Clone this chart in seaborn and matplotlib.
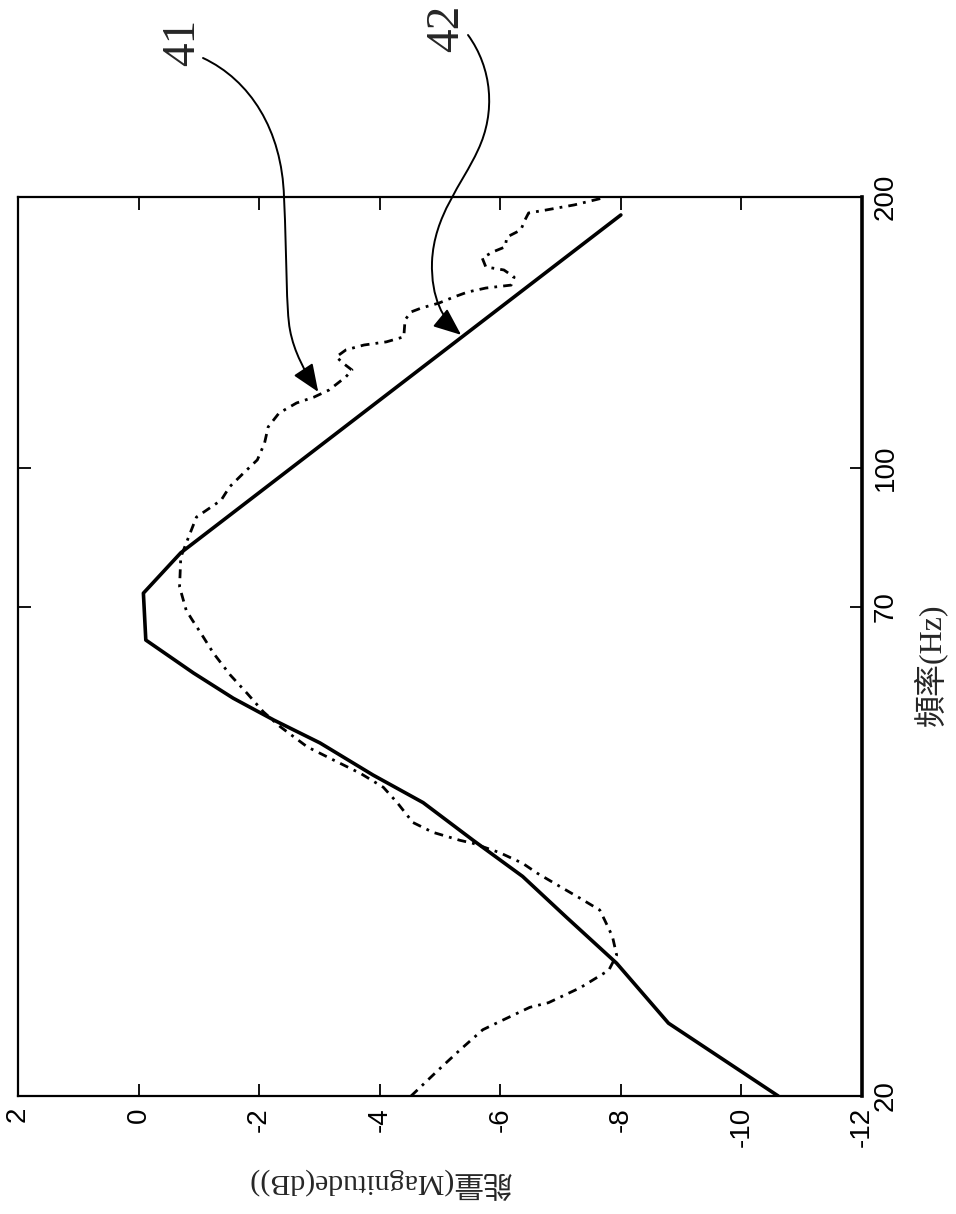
import matplotlib
matplotlib.use('Agg')
from matplotlib import pyplot as plt
from matplotlib.path import Path
from matplotlib.patches import FancyArrowPatch, ArrowStyle
from matplotlib.transforms import IdentityTransform
import seaborn as sns

# curve 42 (solid): frequency (Hz) and magnitude (dB)
freq_42 = [20, 24.1, 28.1, 31.6, 35.1, 38.5, 42.4, 45.5, 49.4, 52.4, 55.4, 59.1,
           64.3, 72.5, 80.4, 191]
mag_42 = [-10.61, -8.79, -7.93, -7.10, -6.37, -5.55, -4.72, -3.89, -3.01, -2.24,
          -1.57, -0.91, -0.12, -0.08, -0.70, -8.0]

# curve 41 (dash-dot, measured)
freq_41 = [20, 21.4, 22.5, 23.7, 24.2, 25.1, 25.4, 26.4, 27.6, 28.7, 30.1, 31.4,
           32.2, 33.2, 34.2, 35.4, 36.3, 37.3, 38.2, 38.5, 39.3, 40.3, 42.4, 44.1,
           45.7, 47.3, 48.9, 51.5, 53.5, 56.1, 58.8, 62.2, 65.5, 67.7, 69.4, 73.7,
           79.5, 82.4, 88.1, 92.0, 95.2, 98.6, 102.0, 106.5, 111.0, 115.0, 118.0,
           119.8, 122.0, 126.2, 128.4, 130.7, 132.8, 135.2, 136.9, 138.0, 139.8,
           146.0, 149.0, 150.5, 152.4, 154.8, 156.8, 158.4, 159.6, 162.9, 165.9,
           167.2, 171.1, 173.8, 176.0, 180.5, 183.8, 188.6, 192.0, 193.4, 196.0,
           199.5]
mag_41 = [-4.52, -4.98, -5.33, -5.71, -5.99, -6.49, -6.80, -7.33, -7.80, -7.93,
          -7.86, -7.73, -7.65, -7.32, -6.99, -6.61, -6.37, -5.99, -5.55, -5.33,
          -4.88, -4.55, -4.29, -4.06, -3.68, -3.23, -2.80, -2.35, -2.07, -1.80,
          -1.52, -1.24, -1.03, -0.89, -0.79, -0.68, -0.70, -0.79, -0.96, -1.37,
          -1.51, -1.74, -1.97, -2.09, -2.15, -2.33, -2.62, -2.91, -3.16, -3.44,
          -3.54, -3.39, -3.28, -3.44, -3.74, -4.11, -4.40, -4.42, -4.52, -4.69,
          -4.98, -5.23, -5.46, -5.76, -6.18, -6.23, -6.06, -5.76, -5.70, -5.88,
          -6.08, -6.11, -6.34, -6.41, -6.47, -6.75, -7.23, -7.70]

mag_ticks = [2, 0, -2, -4, -6, -8, -10, -12]
mag_labels = ['2', '0', '-2', '-4', '-6', '-8', '-10', '-12']
freq_ticks = [20, 70, 100, 200]
freq_labels = ['20', '70', '100', '200']

W, H = 956, 1214
fig = plt.figure(figsize=(W / 100, H / 100), dpi=100)
sns.set_style('white')
plt.rcParams['font.family'] = ['Liberation Sans Narrow', 'Liberation Sans']
serif = ['Liberation Serif', 'Noto Sans CJK TC']

ax = fig.add_axes([18 / W, 1 - 1096 / H, (862 - 18) / W, (1096 - 197) / H])

# the drawing is rotated: magnitude runs along x, frequency along y
sns.lineplot(x=mag_41, y=freq_41, sort=False, estimator=None, ax=ax,
             color='black', lw=2.0, linestyle=(0, (3.2, 2.2, 1, 2.2)))
sns.lineplot(x=mag_42, y=freq_42, sort=False, estimator=None, ax=ax,
             color='black', lw=2.6)

ax.set_yscale('log')
ax.set_xlim(2, -12)
ax.set_ylim(20, 200)
ax.minorticks_off()
ax.set_xticks(mag_ticks)
ax.set_xticklabels(mag_labels, rotation=90, fontsize=20)
ax.set_yticks(freq_ticks)
ax.set_yticklabels(freq_labels, rotation=90, va='center', fontsize=20)
ax.tick_params(direction='in', length=9, width=1.3, top=True, bottom=True,
               left=True, right=True, labelleft=False, labelright=True, pad=8,
               colors='black')
ax.set_xlabel('')
ax.set_ylabel('')
for s in ax.spines.values():
    s.set_linewidth(1.6)
    s.set_color('black')
ax.spines['right'].set_linewidth(2.6)

fig.text(379 / W, 1 - 1183 / H, '能量(Magnitude(dB))', rotation=180,
         ha='center', va='center', fontsize=21.5, family=serif)
fig.text(930 / W, 1 - 665 / H, '頻率(Hz)', rotation=90,
         ha='center', va='center', fontsize=23, family=serif)

fig.text(183 / W, 1 - 42 / H, '41', rotation=90, ha='center', va='center',
         fontsize=34, family=serif)
fig.text(447 / W, 1 - 28 / H, '42', rotation=90, ha='center', va='center',
         fontsize=34, family=serif)


def px(x, y):
    return (x, H - y)


def curved_arrow(points, tip):
    verts = [px(*p) for p in points] + [tuple(tip)]
    codes = [Path.MOVETO] + [Path.CURVE4] * (len(verts) - 1)
    arr = FancyArrowPatch(path=Path(verts, codes),
                          arrowstyle=ArrowStyle('-|>', head_length=17, head_width=7),
                          transform=IdentityTransform(), color='black', lw=1.4,
                          shrinkA=0, shrinkB=0)
    fig.add_artist(arr)


tip41 = ax.transData.transform((-2.98, 121.4))
tip42 = ax.transData.transform((-5.35, 140.5))
curved_arrow([(203, 58), (250, 80), (282, 130), (284, 197),
              (287, 260), (286, 310), (290, 330),
              (294, 352), (305, 372)], tip41)
curved_arrow([(468, 35), (492, 68), (496, 112), (478, 150),
              (462, 185), (434, 215), (432, 262),
              (431, 298), (443, 320)], tip42)

fig.savefig('out.png', dpi=100, facecolor='white')
